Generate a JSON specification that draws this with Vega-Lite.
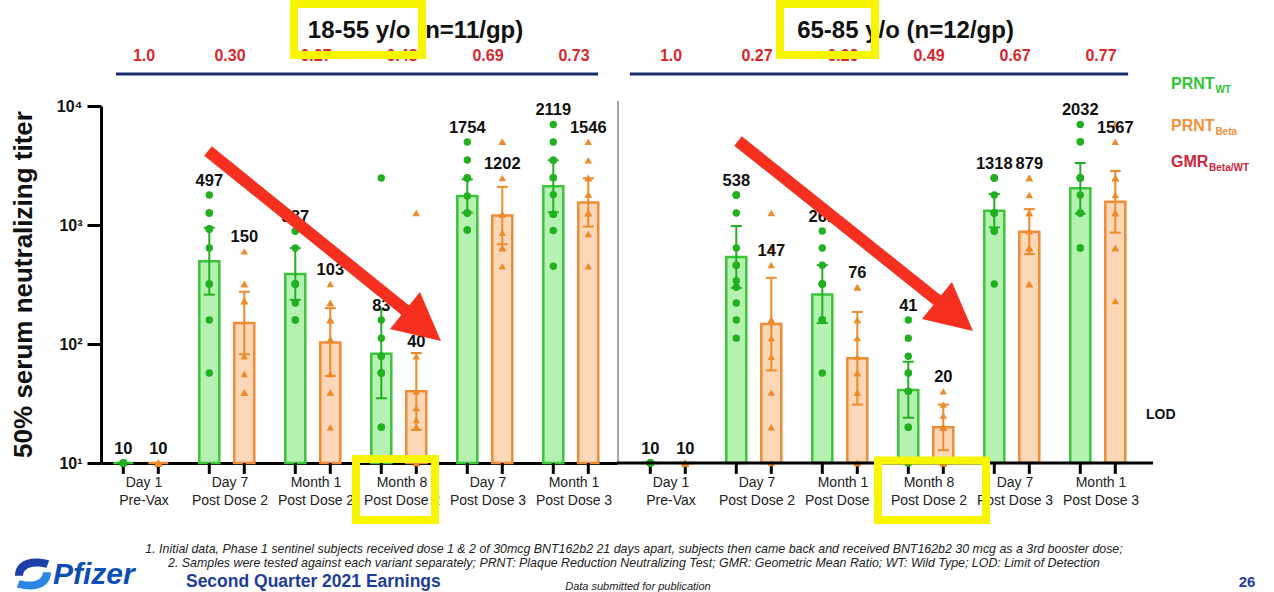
{
"$schema":"https://vega.github.io/schema/vega-lite/v6.json",
"background":"white",
"padding":{"left":9,"top":0,"right":0,"bottom":0},
"bounds":"flush",
"spacing":11,
"config":{"view":{"stroke":null},"font":"Liberation Sans","axis":{"grid":false}},
"datasets":{
"gmr":[
{"g":"18-55","t":"Day 1 Pre-Vax","gmr":"1.0"},
{"g":"18-55","t":"Day 7 Post Dose 2","gmr":"0.30"},
{"g":"18-55","t":"Month 1 Post Dose 2","gmr":"0.27"},
{"g":"18-55","t":"Month 8 Post Dose 2","gmr":"0.48"},
{"g":"18-55","t":"Day 7 Post Dose 3","gmr":"0.69"},
{"g":"18-55","t":"Month 1 Post Dose 3","gmr":"0.73"},
{"g":"65-85","t":"Day 1 Pre-Vax","gmr":"1.0"},
{"g":"65-85","t":"Day 7 Post Dose 2","gmr":"0.27"},
{"g":"65-85","t":"Month 1 Post Dose 2","gmr":"0.29"},
{"g":"65-85","t":"Month 8 Post Dose 2","gmr":"0.49"},
{"g":"65-85","t":"Day 7 Post Dose 3","gmr":"0.67"},
{"g":"65-85","t":"Month 1 Post Dose 3","gmr":"0.77"}
],
"rows":[
{"g":"18-55","t":"Day 1 Pre-Vax","v":"WT","gmt":10,"lo":10,"hi":10},
{"g":"18-55","t":"Day 1 Pre-Vax","v":"Beta","gmt":10,"lo":10,"hi":10},
{"g":"18-55","t":"Day 7 Post Dose 2","v":"WT","gmt":497,"lo":260,"hi":950},
{"g":"18-55","t":"Day 7 Post Dose 2","v":"Beta","gmt":150,"lo":82,"hi":275},
{"g":"18-55","t":"Month 1 Post Dose 2","v":"WT","gmt":387,"lo":235,"hi":640},
{"g":"18-55","t":"Month 1 Post Dose 2","v":"Beta","gmt":103,"lo":54,"hi":200},
{"g":"18-55","t":"Month 8 Post Dose 2","v":"WT","gmt":83,"lo":35,"hi":195},
{"g":"18-55","t":"Month 8 Post Dose 2","v":"Beta","gmt":40,"lo":19,"hi":84},
{"g":"18-55","t":"Day 7 Post Dose 3","v":"WT","gmt":1754,"lo":1270,"hi":2420},
{"g":"18-55","t":"Day 7 Post Dose 3","v":"Beta","gmt":1202,"lo":690,"hi":2090},
{"g":"18-55","t":"Month 1 Post Dose 3","v":"WT","gmt":2119,"lo":1280,"hi":3500},
{"g":"18-55","t":"Month 1 Post Dose 3","v":"Beta","gmt":1546,"lo":970,"hi":2470},
{"g":"65-85","t":"Day 1 Pre-Vax","v":"WT","gmt":10,"lo":10,"hi":10},
{"g":"65-85","t":"Day 1 Pre-Vax","v":"Beta","gmt":10,"lo":10,"hi":10},
{"g":"65-85","t":"Day 7 Post Dose 2","v":"WT","gmt":538,"lo":296,"hi":980},
{"g":"65-85","t":"Day 7 Post Dose 2","v":"Beta","gmt":147,"lo":60,"hi":360},
{"g":"65-85","t":"Month 1 Post Dose 2","v":"WT","gmt":261,"lo":150,"hi":460},
{"g":"65-85","t":"Month 1 Post Dose 2","v":"Beta","gmt":76,"lo":31,"hi":186},
{"g":"65-85","t":"Month 8 Post Dose 2","v":"WT","gmt":41,"lo":24,"hi":71},
{"g":"65-85","t":"Month 8 Post Dose 2","v":"Beta","gmt":20,"lo":12.8,"hi":31},
{"g":"65-85","t":"Day 7 Post Dose 3","v":"WT","gmt":1318,"lo":955,"hi":1820},
{"g":"65-85","t":"Day 7 Post Dose 3","v":"Beta","gmt":879,"lo":570,"hi":1360},
{"g":"65-85","t":"Month 1 Post Dose 3","v":"WT","gmt":2032,"lo":1245,"hi":3320},
{"g":"65-85","t":"Month 1 Post Dose 3","v":"Beta","gmt":1567,"lo":863,"hi":2845},
{"g":"18-55","t":"Day 1 Pre-Vax","v":"WT","titer":10},{"g":"18-55","t":"Day 1 Pre-Vax","v":"WT","titer":10},{"g":"18-55","t":"Day 1 Pre-Vax","v":"WT","titer":10},{"g":"18-55","t":"Day 1 Pre-Vax","v":"WT","titer":10},{"g":"18-55","t":"Day 1 Pre-Vax","v":"WT","titer":10},{"g":"18-55","t":"Day 1 Pre-Vax","v":"WT","titer":10},{"g":"18-55","t":"Day 1 Pre-Vax","v":"WT","titer":10},{"g":"18-55","t":"Day 1 Pre-Vax","v":"WT","titer":10},{"g":"18-55","t":"Day 1 Pre-Vax","v":"WT","titer":10},{"g":"18-55","t":"Day 1 Pre-Vax","v":"WT","titer":10},{"g":"18-55","t":"Day 1 Pre-Vax","v":"WT","titer":10},
{"g":"18-55","t":"Day 1 Pre-Vax","v":"Beta","titer":10},{"g":"18-55","t":"Day 1 Pre-Vax","v":"Beta","titer":10},{"g":"18-55","t":"Day 1 Pre-Vax","v":"Beta","titer":10},{"g":"18-55","t":"Day 1 Pre-Vax","v":"Beta","titer":10},{"g":"18-55","t":"Day 1 Pre-Vax","v":"Beta","titer":10},{"g":"18-55","t":"Day 1 Pre-Vax","v":"Beta","titer":10},{"g":"18-55","t":"Day 1 Pre-Vax","v":"Beta","titer":10},{"g":"18-55","t":"Day 1 Pre-Vax","v":"Beta","titer":10},{"g":"18-55","t":"Day 1 Pre-Vax","v":"Beta","titer":10},{"g":"18-55","t":"Day 1 Pre-Vax","v":"Beta","titer":10},{"g":"18-55","t":"Day 1 Pre-Vax","v":"Beta","titer":10},
{"g":"18-55","t":"Day 7 Post Dose 2","v":"WT","titer":1786},{"g":"18-55","t":"Day 7 Post Dose 2","v":"WT","titer":1262},{"g":"18-55","t":"Day 7 Post Dose 2","v":"WT","titer":1262},{"g":"18-55","t":"Day 7 Post Dose 2","v":"WT","titer":925},{"g":"18-55","t":"Day 7 Post Dose 2","v":"WT","titer":925},{"g":"18-55","t":"Day 7 Post Dose 2","v":"WT","titer":925},{"g":"18-55","t":"Day 7 Post Dose 2","v":"WT","titer":641},{"g":"18-55","t":"Day 7 Post Dose 2","v":"WT","titer":319},{"g":"18-55","t":"Day 7 Post Dose 2","v":"WT","titer":319},{"g":"18-55","t":"Day 7 Post Dose 2","v":"WT","titer":159},{"g":"18-55","t":"Day 7 Post Dose 2","v":"WT","titer":57},
{"g":"18-55","t":"Day 7 Post Dose 2","v":"Beta","titer":600},{"g":"18-55","t":"Day 7 Post Dose 2","v":"Beta","titer":319},{"g":"18-55","t":"Day 7 Post Dose 2","v":"Beta","titer":319},{"g":"18-55","t":"Day 7 Post Dose 2","v":"Beta","titer":230},{"g":"18-55","t":"Day 7 Post Dose 2","v":"Beta","titer":230},{"g":"18-55","t":"Day 7 Post Dose 2","v":"Beta","titer":230},{"g":"18-55","t":"Day 7 Post Dose 2","v":"Beta","titer":79},{"g":"18-55","t":"Day 7 Post Dose 2","v":"Beta","titer":56},{"g":"18-55","t":"Day 7 Post Dose 2","v":"Beta","titer":39},{"g":"18-55","t":"Day 7 Post Dose 2","v":"Beta","titer":39},{"g":"18-55","t":"Day 7 Post Dose 2","v":"Beta","titer":39},
{"g":"18-55","t":"Month 1 Post Dose 2","v":"WT","titer":891},{"g":"18-55","t":"Month 1 Post Dose 2","v":"WT","titer":891},{"g":"18-55","t":"Month 1 Post Dose 2","v":"WT","titer":641},{"g":"18-55","t":"Month 1 Post Dose 2","v":"WT","titer":319},{"g":"18-55","t":"Month 1 Post Dose 2","v":"WT","titer":319},{"g":"18-55","t":"Month 1 Post Dose 2","v":"WT","titer":319},{"g":"18-55","t":"Month 1 Post Dose 2","v":"WT","titer":319},{"g":"18-55","t":"Month 1 Post Dose 2","v":"WT","titer":319},{"g":"18-55","t":"Month 1 Post Dose 2","v":"WT","titer":221},{"g":"18-55","t":"Month 1 Post Dose 2","v":"WT","titer":159},{"g":"18-55","t":"Month 1 Post Dose 2","v":"WT","titer":159},
{"g":"18-55","t":"Month 1 Post Dose 2","v":"Beta","titer":319},{"g":"18-55","t":"Month 1 Post Dose 2","v":"Beta","titer":221},{"g":"18-55","t":"Month 1 Post Dose 2","v":"Beta","titer":221},{"g":"18-55","t":"Month 1 Post Dose 2","v":"Beta","titer":159},{"g":"18-55","t":"Month 1 Post Dose 2","v":"Beta","titer":159},{"g":"18-55","t":"Month 1 Post Dose 2","v":"Beta","titer":159},{"g":"18-55","t":"Month 1 Post Dose 2","v":"Beta","titer":110},{"g":"18-55","t":"Month 1 Post Dose 2","v":"Beta","titer":56},{"g":"18-55","t":"Month 1 Post Dose 2","v":"Beta","titer":39},{"g":"18-55","t":"Month 1 Post Dose 2","v":"Beta","titer":39},{"g":"18-55","t":"Month 1 Post Dose 2","v":"Beta","titer":20},
{"g":"18-55","t":"Month 8 Post Dose 2","v":"WT","titer":2483},{"g":"18-55","t":"Month 8 Post Dose 2","v":"WT","titer":159},{"g":"18-55","t":"Month 8 Post Dose 2","v":"WT","titer":112},{"g":"18-55","t":"Month 8 Post Dose 2","v":"WT","titer":79},{"g":"18-55","t":"Month 8 Post Dose 2","v":"WT","titer":79},{"g":"18-55","t":"Month 8 Post Dose 2","v":"WT","titer":57},{"g":"18-55","t":"Month 8 Post Dose 2","v":"WT","titer":57},{"g":"18-55","t":"Month 8 Post Dose 2","v":"WT","titer":57},{"g":"18-55","t":"Month 8 Post Dose 2","v":"WT","titer":57},{"g":"18-55","t":"Month 8 Post Dose 2","v":"WT","titer":20},{"g":"18-55","t":"Month 8 Post Dose 2","v":"WT","titer":20},
{"g":"18-55","t":"Month 8 Post Dose 2","v":"Beta","titer":1262},{"g":"18-55","t":"Month 8 Post Dose 2","v":"Beta","titer":79},{"g":"18-55","t":"Month 8 Post Dose 2","v":"Beta","titer":40},{"g":"18-55","t":"Month 8 Post Dose 2","v":"Beta","titer":29},{"g":"18-55","t":"Month 8 Post Dose 2","v":"Beta","titer":23},{"g":"18-55","t":"Month 8 Post Dose 2","v":"Beta","titer":20},{"g":"18-55","t":"Month 8 Post Dose 2","v":"Beta","titer":20},{"g":"18-55","t":"Month 8 Post Dose 2","v":"Beta","titer":20},{"g":"18-55","t":"Month 8 Post Dose 2","v":"Beta","titer":20},{"g":"18-55","t":"Month 8 Post Dose 2","v":"Beta","titer":10},{"g":"18-55","t":"Month 8 Post Dose 2","v":"Beta","titer":10},
{"g":"18-55","t":"Day 7 Post Dose 3","v":"WT","titer":4977},{"g":"18-55","t":"Day 7 Post Dose 3","v":"WT","titer":3515},{"g":"18-55","t":"Day 7 Post Dose 3","v":"WT","titer":2483},{"g":"18-55","t":"Day 7 Post Dose 3","v":"WT","titer":2483},{"g":"18-55","t":"Day 7 Post Dose 3","v":"WT","titer":2483},{"g":"18-55","t":"Day 7 Post Dose 3","v":"WT","titer":1754},{"g":"18-55","t":"Day 7 Post Dose 3","v":"WT","titer":1262},{"g":"18-55","t":"Day 7 Post Dose 3","v":"WT","titer":1262},{"g":"18-55","t":"Day 7 Post Dose 3","v":"WT","titer":1262},{"g":"18-55","t":"Day 7 Post Dose 3","v":"WT","titer":908},{"g":"18-55","t":"Day 7 Post Dose 3","v":"WT","titer":908},
{"g":"18-55","t":"Day 7 Post Dose 3","v":"Beta","titer":5000},{"g":"18-55","t":"Day 7 Post Dose 3","v":"Beta","titer":5000},{"g":"18-55","t":"Day 7 Post Dose 3","v":"Beta","titer":2483},{"g":"18-55","t":"Day 7 Post Dose 3","v":"Beta","titer":1230},{"g":"18-55","t":"Day 7 Post Dose 3","v":"Beta","titer":1230},{"g":"18-55","t":"Day 7 Post Dose 3","v":"Beta","titer":1230},{"g":"18-55","t":"Day 7 Post Dose 3","v":"Beta","titer":860},{"g":"18-55","t":"Day 7 Post Dose 3","v":"Beta","titer":640},{"g":"18-55","t":"Day 7 Post Dose 3","v":"Beta","titer":640},{"g":"18-55","t":"Day 7 Post Dose 3","v":"Beta","titer":640},{"g":"18-55","t":"Day 7 Post Dose 3","v":"Beta","titer":450},
{"g":"18-55","t":"Month 1 Post Dose 3","v":"WT","titer":7000},{"g":"18-55","t":"Month 1 Post Dose 3","v":"WT","titer":4977},{"g":"18-55","t":"Month 1 Post Dose 3","v":"WT","titer":3500},{"g":"18-55","t":"Month 1 Post Dose 3","v":"WT","titer":3500},{"g":"18-55","t":"Month 1 Post Dose 3","v":"WT","titer":2500},{"g":"18-55","t":"Month 1 Post Dose 3","v":"WT","titer":2500},{"g":"18-55","t":"Month 1 Post Dose 3","v":"WT","titer":1800},{"g":"18-55","t":"Month 1 Post Dose 3","v":"WT","titer":1230},{"g":"18-55","t":"Month 1 Post Dose 3","v":"WT","titer":1230},{"g":"18-55","t":"Month 1 Post Dose 3","v":"WT","titer":900},{"g":"18-55","t":"Month 1 Post Dose 3","v":"WT","titer":450},
{"g":"18-55","t":"Month 1 Post Dose 3","v":"Beta","titer":5000},{"g":"18-55","t":"Month 1 Post Dose 3","v":"Beta","titer":3500},{"g":"18-55","t":"Month 1 Post Dose 3","v":"Beta","titer":2483},{"g":"18-55","t":"Month 1 Post Dose 3","v":"Beta","titer":2483},{"g":"18-55","t":"Month 1 Post Dose 3","v":"Beta","titer":1800},{"g":"18-55","t":"Month 1 Post Dose 3","v":"Beta","titer":1800},{"g":"18-55","t":"Month 1 Post Dose 3","v":"Beta","titer":1260},{"g":"18-55","t":"Month 1 Post Dose 3","v":"Beta","titer":1260},{"g":"18-55","t":"Month 1 Post Dose 3","v":"Beta","titer":1260},{"g":"18-55","t":"Month 1 Post Dose 3","v":"Beta","titer":840},{"g":"18-55","t":"Month 1 Post Dose 3","v":"Beta","titer":450},
{"g":"65-85","t":"Day 1 Pre-Vax","v":"WT","titer":10},{"g":"65-85","t":"Day 1 Pre-Vax","v":"WT","titer":10},{"g":"65-85","t":"Day 1 Pre-Vax","v":"WT","titer":10},{"g":"65-85","t":"Day 1 Pre-Vax","v":"WT","titer":10},{"g":"65-85","t":"Day 1 Pre-Vax","v":"WT","titer":10},{"g":"65-85","t":"Day 1 Pre-Vax","v":"WT","titer":10},{"g":"65-85","t":"Day 1 Pre-Vax","v":"WT","titer":10},{"g":"65-85","t":"Day 1 Pre-Vax","v":"WT","titer":10},{"g":"65-85","t":"Day 1 Pre-Vax","v":"WT","titer":10},{"g":"65-85","t":"Day 1 Pre-Vax","v":"WT","titer":10},{"g":"65-85","t":"Day 1 Pre-Vax","v":"WT","titer":10},{"g":"65-85","t":"Day 1 Pre-Vax","v":"WT","titer":10},
{"g":"65-85","t":"Day 1 Pre-Vax","v":"Beta","titer":10},{"g":"65-85","t":"Day 1 Pre-Vax","v":"Beta","titer":10},{"g":"65-85","t":"Day 1 Pre-Vax","v":"Beta","titer":10},{"g":"65-85","t":"Day 1 Pre-Vax","v":"Beta","titer":10},{"g":"65-85","t":"Day 1 Pre-Vax","v":"Beta","titer":10},{"g":"65-85","t":"Day 1 Pre-Vax","v":"Beta","titer":10},{"g":"65-85","t":"Day 1 Pre-Vax","v":"Beta","titer":10},{"g":"65-85","t":"Day 1 Pre-Vax","v":"Beta","titer":10},{"g":"65-85","t":"Day 1 Pre-Vax","v":"Beta","titer":10},{"g":"65-85","t":"Day 1 Pre-Vax","v":"Beta","titer":10},{"g":"65-85","t":"Day 1 Pre-Vax","v":"Beta","titer":10},{"g":"65-85","t":"Day 1 Pre-Vax","v":"Beta","titer":10},
{"g":"65-85","t":"Day 7 Post Dose 2","v":"WT","titer":1786},{"g":"65-85","t":"Day 7 Post Dose 2","v":"WT","titer":1786},{"g":"65-85","t":"Day 7 Post Dose 2","v":"WT","titer":1786},{"g":"65-85","t":"Day 7 Post Dose 2","v":"WT","titer":1262},{"g":"65-85","t":"Day 7 Post Dose 2","v":"WT","titer":641},{"g":"65-85","t":"Day 7 Post Dose 2","v":"WT","titer":460},{"g":"65-85","t":"Day 7 Post Dose 2","v":"WT","titer":460},{"g":"65-85","t":"Day 7 Post Dose 2","v":"WT","titer":340},{"g":"65-85","t":"Day 7 Post Dose 2","v":"WT","titer":300},{"g":"65-85","t":"Day 7 Post Dose 2","v":"WT","titer":221},{"g":"65-85","t":"Day 7 Post Dose 2","v":"WT","titer":159},{"g":"65-85","t":"Day 7 Post Dose 2","v":"WT","titer":112},
{"g":"65-85","t":"Day 7 Post Dose 2","v":"Beta","titer":1262},{"g":"65-85","t":"Day 7 Post Dose 2","v":"Beta","titer":641},{"g":"65-85","t":"Day 7 Post Dose 2","v":"Beta","titer":460},{"g":"65-85","t":"Day 7 Post Dose 2","v":"Beta","titer":159},{"g":"65-85","t":"Day 7 Post Dose 2","v":"Beta","titer":159},{"g":"65-85","t":"Day 7 Post Dose 2","v":"Beta","titer":159},{"g":"65-85","t":"Day 7 Post Dose 2","v":"Beta","titer":159},{"g":"65-85","t":"Day 7 Post Dose 2","v":"Beta","titer":112},{"g":"65-85","t":"Day 7 Post Dose 2","v":"Beta","titer":78},{"g":"65-85","t":"Day 7 Post Dose 2","v":"Beta","titer":39},{"g":"65-85","t":"Day 7 Post Dose 2","v":"Beta","titer":20},{"g":"65-85","t":"Day 7 Post Dose 2","v":"Beta","titer":10},
{"g":"65-85","t":"Month 1 Post Dose 2","v":"WT","titer":891},{"g":"65-85","t":"Month 1 Post Dose 2","v":"WT","titer":640},{"g":"65-85","t":"Month 1 Post Dose 2","v":"WT","titer":460},{"g":"65-85","t":"Month 1 Post Dose 2","v":"WT","titer":319},{"g":"65-85","t":"Month 1 Post Dose 2","v":"WT","titer":319},{"g":"65-85","t":"Month 1 Post Dose 2","v":"WT","titer":319},{"g":"65-85","t":"Month 1 Post Dose 2","v":"WT","titer":319},{"g":"65-85","t":"Month 1 Post Dose 2","v":"WT","titer":159},{"g":"65-85","t":"Month 1 Post Dose 2","v":"WT","titer":159},{"g":"65-85","t":"Month 1 Post Dose 2","v":"WT","titer":159},{"g":"65-85","t":"Month 1 Post Dose 2","v":"WT","titer":159},{"g":"65-85","t":"Month 1 Post Dose 2","v":"WT","titer":57},
{"g":"65-85","t":"Month 1 Post Dose 2","v":"Beta","titer":300},{"g":"65-85","t":"Month 1 Post Dose 2","v":"Beta","titer":300},{"g":"65-85","t":"Month 1 Post Dose 2","v":"Beta","titer":159},{"g":"65-85","t":"Month 1 Post Dose 2","v":"Beta","titer":159},{"g":"65-85","t":"Month 1 Post Dose 2","v":"Beta","titer":112},{"g":"65-85","t":"Month 1 Post Dose 2","v":"Beta","titer":78},{"g":"65-85","t":"Month 1 Post Dose 2","v":"Beta","titer":57},{"g":"65-85","t":"Month 1 Post Dose 2","v":"Beta","titer":57},{"g":"65-85","t":"Month 1 Post Dose 2","v":"Beta","titer":39},{"g":"65-85","t":"Month 1 Post Dose 2","v":"Beta","titer":39},{"g":"65-85","t":"Month 1 Post Dose 2","v":"Beta","titer":10},{"g":"65-85","t":"Month 1 Post Dose 2","v":"Beta","titer":10},
{"g":"65-85","t":"Month 8 Post Dose 2","v":"WT","titer":159},{"g":"65-85","t":"Month 8 Post Dose 2","v":"WT","titer":112},{"g":"65-85","t":"Month 8 Post Dose 2","v":"WT","titer":79},{"g":"65-85","t":"Month 8 Post Dose 2","v":"WT","titer":57},{"g":"65-85","t":"Month 8 Post Dose 2","v":"WT","titer":57},{"g":"65-85","t":"Month 8 Post Dose 2","v":"WT","titer":40},{"g":"65-85","t":"Month 8 Post Dose 2","v":"WT","titer":40},{"g":"65-85","t":"Month 8 Post Dose 2","v":"WT","titer":40},{"g":"65-85","t":"Month 8 Post Dose 2","v":"WT","titer":20},{"g":"65-85","t":"Month 8 Post Dose 2","v":"WT","titer":20},{"g":"65-85","t":"Month 8 Post Dose 2","v":"WT","titer":10},{"g":"65-85","t":"Month 8 Post Dose 2","v":"WT","titer":10},
{"g":"65-85","t":"Month 8 Post Dose 2","v":"Beta","titer":40},{"g":"65-85","t":"Month 8 Post Dose 2","v":"Beta","titer":31},{"g":"65-85","t":"Month 8 Post Dose 2","v":"Beta","titer":25},{"g":"65-85","t":"Month 8 Post Dose 2","v":"Beta","titer":20},{"g":"65-85","t":"Month 8 Post Dose 2","v":"Beta","titer":20},{"g":"65-85","t":"Month 8 Post Dose 2","v":"Beta","titer":20},{"g":"65-85","t":"Month 8 Post Dose 2","v":"Beta","titer":20},{"g":"65-85","t":"Month 8 Post Dose 2","v":"Beta","titer":20},{"g":"65-85","t":"Month 8 Post Dose 2","v":"Beta","titer":10},{"g":"65-85","t":"Month 8 Post Dose 2","v":"Beta","titer":10},{"g":"65-85","t":"Month 8 Post Dose 2","v":"Beta","titer":10},{"g":"65-85","t":"Month 8 Post Dose 2","v":"Beta","titer":10},
{"g":"65-85","t":"Day 7 Post Dose 3","v":"WT","titer":2483},{"g":"65-85","t":"Day 7 Post Dose 3","v":"WT","titer":2483},{"g":"65-85","t":"Day 7 Post Dose 3","v":"WT","titer":2483},{"g":"65-85","t":"Day 7 Post Dose 3","v":"WT","titer":1786},{"g":"65-85","t":"Day 7 Post Dose 3","v":"WT","titer":1262},{"g":"65-85","t":"Day 7 Post Dose 3","v":"WT","titer":1262},{"g":"65-85","t":"Day 7 Post Dose 3","v":"WT","titer":1262},{"g":"65-85","t":"Day 7 Post Dose 3","v":"WT","titer":1262},{"g":"65-85","t":"Day 7 Post Dose 3","v":"WT","titer":891},{"g":"65-85","t":"Day 7 Post Dose 3","v":"WT","titer":891},{"g":"65-85","t":"Day 7 Post Dose 3","v":"WT","titer":891},{"g":"65-85","t":"Day 7 Post Dose 3","v":"WT","titer":319},
{"g":"65-85","t":"Day 7 Post Dose 3","v":"Beta","titer":2483},{"g":"65-85","t":"Day 7 Post Dose 3","v":"Beta","titer":2483},{"g":"65-85","t":"Day 7 Post Dose 3","v":"Beta","titer":1786},{"g":"65-85","t":"Day 7 Post Dose 3","v":"Beta","titer":1262},{"g":"65-85","t":"Day 7 Post Dose 3","v":"Beta","titer":1262},{"g":"65-85","t":"Day 7 Post Dose 3","v":"Beta","titer":891},{"g":"65-85","t":"Day 7 Post Dose 3","v":"Beta","titer":641},{"g":"65-85","t":"Day 7 Post Dose 3","v":"Beta","titer":641},{"g":"65-85","t":"Day 7 Post Dose 3","v":"Beta","titer":641},{"g":"65-85","t":"Day 7 Post Dose 3","v":"Beta","titer":641},{"g":"65-85","t":"Day 7 Post Dose 3","v":"Beta","titer":319},{"g":"65-85","t":"Day 7 Post Dose 3","v":"Beta","titer":319},
{"g":"65-85","t":"Month 1 Post Dose 3","v":"WT","titer":7000},{"g":"65-85","t":"Month 1 Post Dose 3","v":"WT","titer":5000},{"g":"65-85","t":"Month 1 Post Dose 3","v":"WT","titer":5000},{"g":"65-85","t":"Month 1 Post Dose 3","v":"WT","titer":2483},{"g":"65-85","t":"Month 1 Post Dose 3","v":"WT","titer":2483},{"g":"65-85","t":"Month 1 Post Dose 3","v":"WT","titer":2483},{"g":"65-85","t":"Month 1 Post Dose 3","v":"WT","titer":2483},{"g":"65-85","t":"Month 1 Post Dose 3","v":"WT","titer":1786},{"g":"65-85","t":"Month 1 Post Dose 3","v":"WT","titer":1262},{"g":"65-85","t":"Month 1 Post Dose 3","v":"WT","titer":1262},{"g":"65-85","t":"Month 1 Post Dose 3","v":"WT","titer":641},{"g":"65-85","t":"Month 1 Post Dose 3","v":"WT","titer":641},
{"g":"65-85","t":"Month 1 Post Dose 3","v":"Beta","titer":7000},{"g":"65-85","t":"Month 1 Post Dose 3","v":"Beta","titer":5000},{"g":"65-85","t":"Month 1 Post Dose 3","v":"Beta","titer":2483},{"g":"65-85","t":"Month 1 Post Dose 3","v":"Beta","titer":2483},{"g":"65-85","t":"Month 1 Post Dose 3","v":"Beta","titer":2483},{"g":"65-85","t":"Month 1 Post Dose 3","v":"Beta","titer":1786},{"g":"65-85","t":"Month 1 Post Dose 3","v":"Beta","titer":1262},{"g":"65-85","t":"Month 1 Post Dose 3","v":"Beta","titer":1262},{"g":"65-85","t":"Month 1 Post Dose 3","v":"Beta","titer":1262},{"g":"65-85","t":"Month 1 Post Dose 3","v":"Beta","titer":641},{"g":"65-85","t":"Month 1 Post Dose 3","v":"Beta","titer":641},{"g":"65-85","t":"Month 1 Post Dose 3","v":"Beta","titer":230}
]
},
"hconcat":[
{
"width":516,"height":357,
"resolve":{"scale":{"x":"independent"}},
"layer":[
{
"data":{"name":"rows"},
"transform":[{"filter":"datum.g == '18-55'"}],
"layer":[
{"transform":[{"filter":"isValid(datum.gmt)"}],
 "mark":{"type":"bar","width":20,"strokeWidth":2.5},
 "encoding":{
  "x":{"field":"t","type":"nominal","title":null,"scale":{"domain":["Day 1 Pre-Vax","Day 7 Post Dose 2","Month 1 Post Dose 2","Month 8 Post Dose 2","Day 7 Post Dose 3","Month 1 Post Dose 3"],"paddingInner":0,"paddingOuter":0},
   "axis":{"title":null,"ticks":false,"domain":true,"domainColor":"#000","domainWidth":3,"labelAngle":0,"labelFontSize":14,"labelColor":"#222","labelPadding":12,"labelLineHeight":18,"labelExpr":"split(replace(replace(datum.label, ' Post', '|Post'), ' Pre', '|Pre'), '|')"}},
  "xOffset":{"field":"v","type":"nominal","scale":{"domain":["WT","Beta"],"paddingInner":0,"paddingOuter":0.2286,"align":0.3}},
  "y":{"field":"gmt","type":"quantitative","title":"50% serum neutralizing titer","scale":{"type":"log","domain":[10,10000],"nice":false},
   "axis":{"title":"50% serum neutralizing titer","titleFontSize":26,"titleFontWeight":"bold","titleColor":"#111","titleX":-91,"titleY":178,"titleAngle":-90,"titleBaseline":"top","titleAlign":"center","values":[10,100,1000,10000],"labelExpr":"datum.value == 10 ? '10¹' : datum.value == 100 ? '10²' : datum.value == 1000 ? '10³' : '10⁴'","labelFontSize":16,"labelFontWeight":"bold","labelColor":"#111","labelPadding":5,"tickSize":14,"tickWidth":3,"tickColor":"#000","domainColor":"#000","domainWidth":3}},
  "y2":{"datum":10},
  "fill":{"field":"v","type":"nominal","scale":{"domain":["WT","Beta"],"range":["#b5f1b0","#fcd8b9"]},"legend":null},
  "stroke":{"field":"v","type":"nominal","scale":{"domain":["WT","Beta"],"range":["#3cc43a","#f08c36"]},"legend":null}
 }},
{"transform":[{"filter":"isValid(datum.gmt)"}],
 "mark":{"type":"rule","strokeWidth":2},
 "encoding":{
  "x":{"field":"t","type":"nominal","title":null,"scale":{"domain":["Day 1 Pre-Vax","Day 7 Post Dose 2","Month 1 Post Dose 2","Month 8 Post Dose 2","Day 7 Post Dose 3","Month 1 Post Dose 3"],"paddingInner":0,"paddingOuter":0}},
  "xOffset":{"field":"v","type":"nominal","scale":{"domain":["WT","Beta"],"paddingInner":0,"paddingOuter":0.2286,"align":0.3}},
  "y":{"field":"lo","type":"quantitative","title":"50% serum neutralizing titer","scale":{"type":"log","domain":[10,10000],"nice":false}},
  "y2":{"field":"hi"},
  "color":{"field":"v","type":"nominal","scale":{"domain":["WT","Beta"],"range":["#22b022","#ef8a2a"]},"legend":null}
 }},
{"transform":[{"filter":"isValid(datum.gmt)"}],
 "mark":{"type":"tick","thickness":2,"size":11,"opacity":1},
 "encoding":{
  "x":{"field":"t","type":"nominal","title":null,"scale":{"domain":["Day 1 Pre-Vax","Day 7 Post Dose 2","Month 1 Post Dose 2","Month 8 Post Dose 2","Day 7 Post Dose 3","Month 1 Post Dose 3"],"paddingInner":0,"paddingOuter":0}},
  "xOffset":{"field":"v","type":"nominal","scale":{"domain":["WT","Beta"],"paddingInner":0,"paddingOuter":0.2286,"align":0.3}},
  "y":{"field":"lo","type":"quantitative","title":"50% serum neutralizing titer","scale":{"type":"log","domain":[10,10000],"nice":false}},
  "color":{"field":"v","type":"nominal","scale":{"domain":["WT","Beta"],"range":["#22b022","#ef8a2a"]},"legend":null}
 }},
{"transform":[{"filter":"isValid(datum.gmt)"}],
 "mark":{"type":"tick","thickness":2,"size":11,"opacity":1},
 "encoding":{
  "x":{"field":"t","type":"nominal","title":null,"scale":{"domain":["Day 1 Pre-Vax","Day 7 Post Dose 2","Month 1 Post Dose 2","Month 8 Post Dose 2","Day 7 Post Dose 3","Month 1 Post Dose 3"],"paddingInner":0,"paddingOuter":0}},
  "xOffset":{"field":"v","type":"nominal","scale":{"domain":["WT","Beta"],"paddingInner":0,"paddingOuter":0.2286,"align":0.3}},
  "y":{"field":"hi","type":"quantitative","title":"50% serum neutralizing titer","scale":{"type":"log","domain":[10,10000],"nice":false}},
  "color":{"field":"v","type":"nominal","scale":{"domain":["WT","Beta"],"range":["#22b022","#ef8a2a"]},"legend":null}
 }},
{"transform":[{"filter":"isValid(datum.gmt)"}],
 "mark":{"type":"rule","strokeWidth":3,"color":"#000"},
 "encoding":{
  "x":{"field":"t","type":"nominal","title":null,"scale":{"domain":["Day 1 Pre-Vax","Day 7 Post Dose 2","Month 1 Post Dose 2","Month 8 Post Dose 2","Day 7 Post Dose 3","Month 1 Post Dose 3"],"paddingInner":0,"paddingOuter":0}},
  "xOffset":{"field":"v","type":"nominal","scale":{"domain":["WT","Beta"],"paddingInner":0,"paddingOuter":0.2286,"align":0.3}},
  "y":{"datum":10,"type":"quantitative","title":"50% serum neutralizing titer","scale":{"type":"log","domain":[10,10000],"nice":false}},
  "y2":{"datum":8.1}
 }},
{"transform":[{"filter":"isValid(datum.titer)"}],
 "mark":{"type":"point","filled":true,"opacity":1,"size":55},
 "encoding":{
  "x":{"field":"t","type":"nominal","title":null,"scale":{"domain":["Day 1 Pre-Vax","Day 7 Post Dose 2","Month 1 Post Dose 2","Month 8 Post Dose 2","Day 7 Post Dose 3","Month 1 Post Dose 3"],"paddingInner":0,"paddingOuter":0}},
  "xOffset":{"field":"v","type":"nominal","scale":{"domain":["WT","Beta"],"paddingInner":0,"paddingOuter":0.2286,"align":0.3}},
  "y":{"field":"titer","type":"quantitative","title":"50% serum neutralizing titer","scale":{"type":"log","domain":[10,10000],"nice":false}},
  "color":{"field":"v","type":"nominal","scale":{"domain":["WT","Beta"],"range":["#22b022","#ef8a2a"]},"legend":null},
  "shape":{"field":"v","type":"nominal","scale":{"domain":["WT","Beta"],"range":["circle","triangle-up"]},"legend":null}
 }},
{"transform":[{"joinaggregate":[{"op":"max","field":"gmt","as":"ggmt"}],"groupby":["t","v"]},{"filter":"!isValid(datum.titer) || datum.titer <= 4.1 * datum.ggmt"},{"joinaggregate":[{"op":"max","field":"titer","as":"top"}],"groupby":["t","v"]},{"filter":"isValid(datum.gmt)"}],
 "mark":{"type":"text","font":"Liberation Sans Narrow, Arial Narrow, Liberation Sans","fontSize":16.5,"fontWeight":"bold","dy":-9,"baseline":"alphabetic","color":"#111"},
 "encoding":{
  "x":{"field":"t","type":"nominal","title":null,"scale":{"domain":["Day 1 Pre-Vax","Day 7 Post Dose 2","Month 1 Post Dose 2","Month 8 Post Dose 2","Day 7 Post Dose 3","Month 1 Post Dose 3"],"paddingInner":0,"paddingOuter":0}},
  "xOffset":{"field":"v","type":"nominal","scale":{"domain":["WT","Beta"],"paddingInner":0,"paddingOuter":0.2286,"align":0.3}},
  "y":{"field":"top","type":"quantitative","title":"50% serum neutralizing titer","scale":{"type":"log","domain":[10,10000],"nice":false}},
  "text":{"field":"gmt","type":"nominal"}
 }},
{"data":{"name":"gmr"},
 "transform":[{"filter":"datum.g == '18-55'"}],
 "mark":{"type":"text","font":"Liberation Sans Narrow, Arial Narrow, Liberation Sans","fontSize":16,"fontWeight":"bold","baseline":"middle","color":"#d8262c"},
 "encoding":{
  "x":{"field":"t","type":"nominal","title":null,"scale":{"domain":["Day 1 Pre-Vax","Day 7 Post Dose 2","Month 1 Post Dose 2","Month 8 Post Dose 2","Day 7 Post Dose 3","Month 1 Post Dose 3"],"paddingInner":0,"paddingOuter":0}},
  "y":{"datum":26300,"type":"quantitative","title":"50% serum neutralizing titer","scale":{"type":"log","domain":[10,10000],"nice":false}},
  "text":{"field":"gmr","type":"nominal"}
 }}
]
},
{
"data":{"values":[{}]},
"layer":[
{"mark":{"type":"text","text":"18-55 y/o (n=11/gp)","fontSize":24,"fontWeight":"bold","align":"center","baseline":"alphabetic","color":"#111"},
 "encoding":{"x":{"datum":3.657,"type":"quantitative","scale":{"domain":[0,6],"nice":false,"zero":false},"axis":null},"y":{"datum":37270,"type":"quantitative","title":"50% serum neutralizing titer","scale":{"type":"log","domain":[10,10000],"nice":false}}}},
{"mark":{"type":"rule","color":"#1b2a6b","strokeWidth":3},
 "encoding":{"x":{"datum":0.174,"type":"quantitative","scale":{"domain":[0,6],"nice":false,"zero":false},"axis":null},"x2":{"datum":5.78},"y":{"datum":18570,"type":"quantitative","title":"50% serum neutralizing titer","scale":{"type":"log","domain":[10,10000],"nice":false}}}},
{"mark":{"type":"rule","color":"#f5301e","strokeWidth":12,"strokeCap":"butt"},
 "encoding":{"x":{"datum":1.244,"type":"quantitative","scale":{"domain":[0,6],"nice":false,"zero":false},"axis":null},"x2":{"datum":3.593},"y":{"datum":4190,"type":"quantitative","title":"50% serum neutralizing titer","scale":{"type":"log","domain":[10,10000],"nice":false}},"y2":{"datum":178.6}}},
{"mark":{"type":"point","shape":"M0.1,-0.957L-0.9,0.277L0.8,0.677Z","size":3600,"filled":true,"opacity":1,"color":"#f5301e","strokeWidth":0},
 "encoding":{"x":{"datum":3.674,"type":"quantitative","scale":{"domain":[0,6],"nice":false,"zero":false},"axis":null},"y":{"datum":157,"type":"quantitative","title":"50% serum neutralizing titer","scale":{"type":"log","domain":[10,10000],"nice":false}}}},
{"mark":{"type":"rect","fill":"transparent","stroke":"#f7f500","strokeWidth":8},
 "encoding":{"x":{"datum":2.244,"type":"quantitative","scale":{"domain":[0,6],"nice":false,"zero":false},"axis":null},"x2":{"datum":3.733},"y":{"datum":71950,"type":"quantitative","title":"50% serum neutralizing titer","scale":{"type":"log","domain":[10,10000],"nice":false}},"y2":{"datum":26840}}},
{"mark":{"type":"rect","fill":"transparent","stroke":"#f7f500","strokeWidth":8},
 "encoding":{"x":{"datum":2.965,"type":"quantitative","scale":{"domain":[0,6],"nice":false,"zero":false},"axis":null},"x2":{"datum":3.884},"y":{"datum":10.8,"type":"quantitative","title":"50% serum neutralizing titer","scale":{"type":"log","domain":[10,10000],"nice":false}},"y2":{"datum":3.32}}},
{"mark":{"type":"text","text":"Second Quarter 2021 Earnings","fontSize":17.5,"fontWeight":"bold","align":"left","baseline":"alphabetic","color":"#1d3d9a"},
 "encoding":{"x":{"datum":0.988,"type":"quantitative","scale":{"domain":[0,6],"nice":false,"zero":false},"axis":null},"y":{"datum":0.908,"type":"quantitative","title":"50% serum neutralizing titer","scale":{"type":"log","domain":[10,10000],"nice":false}}}},
{"mark":{"type":"text","text":"Pfizer","fontSize":30,"fontWeight":"bold","fontStyle":"italic","align":"left","baseline":"alphabetic","color":"#0b4fb4"},
 "encoding":{"x":{"datum":-0.558,"type":"quantitative","scale":{"domain":[0,6],"nice":false,"zero":false},"axis":null},"y":{"datum":0.962,"type":"quantitative","title":"50% serum neutralizing titer","scale":{"type":"log","domain":[10,10000],"nice":false}}}},
{"mark":{"type":"point","shape":"M-1,0.1C-1,-0.7 -0.2,-1.05 0.9,-0.75L0.75,-0.35C-0.1,-0.55 -0.55,-0.3 -0.55,0.1Z","size":1296,"filled":true,"opacity":1,"color":"#1c3fa8","strokeWidth":0},
 "encoding":{"x":{"datum":-0.791,"type":"quantitative","scale":{"domain":[0,6],"nice":false,"zero":false},"axis":null},"y":{"datum":1.167,"type":"quantitative","title":"50% serum neutralizing titer","scale":{"type":"log","domain":[10,10000],"nice":false}}}},
{"mark":{"type":"point","shape":"M1,-0.1C1,0.7 0.2,1.05 -0.9,0.75L-0.75,0.35C0.1,0.55 0.55,0.3 0.55,-0.1Z","size":1296,"filled":true,"opacity":1,"color":"#2a86e0","strokeWidth":0},
 "encoding":{"x":{"datum":-0.791,"type":"quantitative","scale":{"domain":[0,6],"nice":false,"zero":false},"axis":null},"y":{"datum":1.167,"type":"quantitative","title":"50% serum neutralizing titer","scale":{"type":"log","domain":[10,10000],"nice":false}}}}
]
}
]
},
{
"width":516,"height":357,
"resolve":{"scale":{"x":"independent"}},
"layer":[
{
"data":{"name":"rows"},
"transform":[{"filter":"datum.g == '65-85'"}],
"layer":[
{"transform":[{"filter":"isValid(datum.gmt)"}],
 "mark":{"type":"bar","width":20,"strokeWidth":2.5},
 "encoding":{
  "x":{"field":"t","type":"nominal","title":null,"scale":{"domain":["Day 1 Pre-Vax","Day 7 Post Dose 2","Month 1 Post Dose 2","Month 8 Post Dose 2","Day 7 Post Dose 3","Month 1 Post Dose 3"],"paddingInner":0,"paddingOuter":0},
   "axis":{"title":null,"ticks":false,"domain":false,"labelAngle":0,"labelFontSize":14,"labelColor":"#222","labelPadding":12,"labelLineHeight":18,"labelExpr":"split(replace(replace(datum.label, ' Post', '|Post'), ' Pre', '|Pre'), '|')"}},
  "xOffset":{"field":"v","type":"nominal","scale":{"domain":["WT","Beta"],"paddingInner":0,"paddingOuter":0.2286,"align":0.3}},
  "y":{"field":"gmt","type":"quantitative","scale":{"type":"log","domain":[10,10000],"nice":false},"axis":null},
  "y2":{"datum":10},
  "fill":{"field":"v","type":"nominal","scale":{"domain":["WT","Beta"],"range":["#b5f1b0","#fcd8b9"]},"legend":null},
  "stroke":{"field":"v","type":"nominal","scale":{"domain":["WT","Beta"],"range":["#3cc43a","#f08c36"]},"legend":null}
 }},
{"transform":[{"filter":"isValid(datum.gmt)"}],
 "mark":{"type":"rule","strokeWidth":2},
 "encoding":{
  "x":{"field":"t","type":"nominal","title":null,"scale":{"domain":["Day 1 Pre-Vax","Day 7 Post Dose 2","Month 1 Post Dose 2","Month 8 Post Dose 2","Day 7 Post Dose 3","Month 1 Post Dose 3"],"paddingInner":0,"paddingOuter":0}},
  "xOffset":{"field":"v","type":"nominal","scale":{"domain":["WT","Beta"],"paddingInner":0,"paddingOuter":0.2286,"align":0.3}},
  "y":{"field":"lo","type":"quantitative","scale":{"type":"log","domain":[10,10000],"nice":false},"axis":null},
  "y2":{"field":"hi"},
  "color":{"field":"v","type":"nominal","scale":{"domain":["WT","Beta"],"range":["#22b022","#ef8a2a"]},"legend":null}
 }},
{"transform":[{"filter":"isValid(datum.gmt)"}],
 "mark":{"type":"tick","thickness":2,"size":11,"opacity":1},
 "encoding":{
  "x":{"field":"t","type":"nominal","title":null,"scale":{"domain":["Day 1 Pre-Vax","Day 7 Post Dose 2","Month 1 Post Dose 2","Month 8 Post Dose 2","Day 7 Post Dose 3","Month 1 Post Dose 3"],"paddingInner":0,"paddingOuter":0}},
  "xOffset":{"field":"v","type":"nominal","scale":{"domain":["WT","Beta"],"paddingInner":0,"paddingOuter":0.2286,"align":0.3}},
  "y":{"field":"lo","type":"quantitative","scale":{"type":"log","domain":[10,10000],"nice":false},"axis":null},
  "color":{"field":"v","type":"nominal","scale":{"domain":["WT","Beta"],"range":["#22b022","#ef8a2a"]},"legend":null}
 }},
{"transform":[{"filter":"isValid(datum.gmt)"}],
 "mark":{"type":"tick","thickness":2,"size":11,"opacity":1},
 "encoding":{
  "x":{"field":"t","type":"nominal","title":null,"scale":{"domain":["Day 1 Pre-Vax","Day 7 Post Dose 2","Month 1 Post Dose 2","Month 8 Post Dose 2","Day 7 Post Dose 3","Month 1 Post Dose 3"],"paddingInner":0,"paddingOuter":0}},
  "xOffset":{"field":"v","type":"nominal","scale":{"domain":["WT","Beta"],"paddingInner":0,"paddingOuter":0.2286,"align":0.3}},
  "y":{"field":"hi","type":"quantitative","scale":{"type":"log","domain":[10,10000],"nice":false},"axis":null},
  "color":{"field":"v","type":"nominal","scale":{"domain":["WT","Beta"],"range":["#22b022","#ef8a2a"]},"legend":null}
 }},
{"transform":[{"filter":"isValid(datum.gmt)"}],
 "mark":{"type":"rule","strokeWidth":3,"color":"#000"},
 "encoding":{
  "x":{"field":"t","type":"nominal","title":null,"scale":{"domain":["Day 1 Pre-Vax","Day 7 Post Dose 2","Month 1 Post Dose 2","Month 8 Post Dose 2","Day 7 Post Dose 3","Month 1 Post Dose 3"],"paddingInner":0,"paddingOuter":0}},
  "xOffset":{"field":"v","type":"nominal","scale":{"domain":["WT","Beta"],"paddingInner":0,"paddingOuter":0.2286,"align":0.3}},
  "y":{"datum":10,"type":"quantitative","scale":{"type":"log","domain":[10,10000],"nice":false},"axis":null},
  "y2":{"datum":8.1}
 }},
{"transform":[{"filter":"isValid(datum.titer)"}],
 "mark":{"type":"point","filled":true,"opacity":1,"size":55},
 "encoding":{
  "x":{"field":"t","type":"nominal","title":null,"scale":{"domain":["Day 1 Pre-Vax","Day 7 Post Dose 2","Month 1 Post Dose 2","Month 8 Post Dose 2","Day 7 Post Dose 3","Month 1 Post Dose 3"],"paddingInner":0,"paddingOuter":0}},
  "xOffset":{"field":"v","type":"nominal","scale":{"domain":["WT","Beta"],"paddingInner":0,"paddingOuter":0.2286,"align":0.3}},
  "y":{"field":"titer","type":"quantitative","scale":{"type":"log","domain":[10,10000],"nice":false},"axis":null},
  "color":{"field":"v","type":"nominal","scale":{"domain":["WT","Beta"],"range":["#22b022","#ef8a2a"]},"legend":null},
  "shape":{"field":"v","type":"nominal","scale":{"domain":["WT","Beta"],"range":["circle","triangle-up"]},"legend":null}
 }},
{"transform":[{"joinaggregate":[{"op":"max","field":"gmt","as":"ggmt"}],"groupby":["t","v"]},{"filter":"!isValid(datum.titer) || datum.titer <= 4.1 * datum.ggmt"},{"joinaggregate":[{"op":"max","field":"titer","as":"top"}],"groupby":["t","v"]},{"filter":"isValid(datum.gmt)"}],
 "mark":{"type":"text","font":"Liberation Sans Narrow, Arial Narrow, Liberation Sans","fontSize":16.5,"fontWeight":"bold","dy":-9,"baseline":"alphabetic","color":"#111"},
 "encoding":{
  "x":{"field":"t","type":"nominal","title":null,"scale":{"domain":["Day 1 Pre-Vax","Day 7 Post Dose 2","Month 1 Post Dose 2","Month 8 Post Dose 2","Day 7 Post Dose 3","Month 1 Post Dose 3"],"paddingInner":0,"paddingOuter":0}},
  "xOffset":{"field":"v","type":"nominal","scale":{"domain":["WT","Beta"],"paddingInner":0,"paddingOuter":0.2286,"align":0.3}},
  "y":{"field":"top","type":"quantitative","scale":{"type":"log","domain":[10,10000],"nice":false},"axis":null},
  "text":{"field":"gmt","type":"nominal"}
 }},
{"data":{"name":"gmr"},
 "transform":[{"filter":"datum.g == '65-85'"}],
 "mark":{"type":"text","font":"Liberation Sans Narrow, Arial Narrow, Liberation Sans","fontSize":16,"fontWeight":"bold","baseline":"middle","color":"#d8262c"},
 "encoding":{
  "x":{"field":"t","type":"nominal","title":null,"scale":{"domain":["Day 1 Pre-Vax","Day 7 Post Dose 2","Month 1 Post Dose 2","Month 8 Post Dose 2","Day 7 Post Dose 3","Month 1 Post Dose 3"],"paddingInner":0,"paddingOuter":0}},
  "y":{"datum":26300,"type":"quantitative","scale":{"type":"log","domain":[10,10000],"nice":false},"axis":null},
  "text":{"field":"gmr","type":"nominal"}
 }}
]
},
{
"data":{"values":[{}]},
"layer":[
{"mark":{"type":"text","text":"65-85 y/o (n=12/gp)","fontSize":24,"fontWeight":"bold","align":"center","baseline":"alphabetic","color":"#111"},
 "encoding":{"x":{"datum":3.227,"type":"quantitative","scale":{"domain":[0,6],"nice":false,"zero":false},"axis":null},"y":{"datum":37270,"type":"quantitative","scale":{"type":"log","domain":[10,10000],"nice":false},"axis":null}}},
{"mark":{"type":"rule","color":"#1b2a6b","strokeWidth":3},
 "encoding":{"x":{"datum":0.023,"type":"quantitative","scale":{"domain":[0,6],"nice":false,"zero":false},"axis":null},"x2":{"datum":5.815},"y":{"datum":18570,"type":"quantitative","scale":{"type":"log","domain":[10,10000],"nice":false},"axis":null}}},
{"mark":{"type":"rule","color":"#8a8a8a","strokeWidth":1.5},
 "encoding":{"x":{"datum":-0.116,"type":"quantitative","scale":{"domain":[0,6],"nice":false,"zero":false},"axis":null},"y":{"datum":10,"type":"quantitative","scale":{"type":"log","domain":[10,10000],"nice":false},"axis":null},"y2":{"datum":11000}}},
{"mark":{"type":"rule","color":"#000","strokeWidth":3},
 "encoding":{"x":{"datum":-0.128,"type":"quantitative","scale":{"domain":[0,6],"nice":false,"zero":false},"axis":null},"x2":{"datum":6.105},"y":{"datum":10,"type":"quantitative","scale":{"type":"log","domain":[10,10000],"nice":false},"axis":null}}},
{"mark":{"type":"rule","color":"#f5301e","strokeWidth":12,"strokeCap":"butt"},
 "encoding":{"x":{"datum":1.279,"type":"quantitative","scale":{"domain":[0,6],"nice":false,"zero":false},"axis":null},"x2":{"datum":3.651},"y":{"datum":5080,"type":"quantitative","scale":{"type":"log","domain":[10,10000],"nice":false},"axis":null},"y2":{"datum":216.9}}},
{"mark":{"type":"point","shape":"M0.1,-0.957L-0.9,0.277L0.8,0.677Z","size":3600,"filled":true,"opacity":1,"color":"#f5301e","strokeWidth":0},
 "encoding":{"x":{"datum":3.732,"type":"quantitative","scale":{"domain":[0,6],"nice":false,"zero":false},"axis":null},"y":{"datum":190.6,"type":"quantitative","scale":{"type":"log","domain":[10,10000],"nice":false},"axis":null}}},
{"mark":{"type":"rect","fill":"transparent","stroke":"#f7f500","strokeWidth":8},
 "encoding":{"x":{"datum":1.767,"type":"quantitative","scale":{"domain":[0,6],"nice":false,"zero":false},"axis":null},"x2":{"datum":2.872},"y":{"datum":71950,"type":"quantitative","scale":{"type":"log","domain":[10,10000],"nice":false},"axis":null},"y2":{"datum":26840}}},
{"mark":{"type":"rect","fill":"transparent","stroke":"#f7f500","strokeWidth":8},
 "encoding":{"x":{"datum":2.907,"type":"quantitative","scale":{"domain":[0,6],"nice":false,"zero":false},"axis":null},"x2":{"datum":4.163},"y":{"datum":10.5,"type":"quantitative","scale":{"type":"log","domain":[10,10000],"nice":false},"axis":null},"y2":{"datum":3.32}}},
{"mark":{"type":"text","text":"PRNT","fontSize":16,"fontWeight":"bold","align":"left","baseline":"alphabetic","color":"#31c531"},
 "encoding":{"x":{"datum":6.314,"type":"quantitative","scale":{"domain":[0,6],"nice":false,"zero":false},"axis":null},"y":{"datum":13895,"type":"quantitative","scale":{"type":"log","domain":[10,10000],"nice":false},"axis":null}}},
{"mark":{"type":"text","text":"WT","fontSize":10,"fontWeight":"bold","align":"left","baseline":"alphabetic","color":"#31c531"},
 "encoding":{"x":{"datum":6.830,"type":"quantitative","scale":{"domain":[0,6],"nice":false,"zero":false},"axis":null},"y":{"datum":12860,"type":"quantitative","scale":{"type":"log","domain":[10,10000],"nice":false},"axis":null}}},
{"mark":{"type":"text","text":"PRNT","fontSize":16,"fontWeight":"bold","align":"left","baseline":"alphabetic","color":"#f4913a"},
 "encoding":{"x":{"datum":6.314,"type":"quantitative","scale":{"domain":[0,6],"nice":false,"zero":false},"axis":null},"y":{"datum":6166,"type":"quantitative","scale":{"type":"log","domain":[10,10000],"nice":false},"axis":null}}},
{"mark":{"type":"text","text":"Beta","fontSize":10,"fontWeight":"bold","align":"left","baseline":"alphabetic","color":"#f4913a"},
 "encoding":{"x":{"datum":6.830,"type":"quantitative","scale":{"domain":[0,6],"nice":false,"zero":false},"axis":null},"y":{"datum":5704,"type":"quantitative","scale":{"type":"log","domain":[10,10000],"nice":false},"axis":null}}},
{"mark":{"type":"text","text":"GMR","fontSize":16,"fontWeight":"bold","align":"left","baseline":"alphabetic","color":"#d0243c"},
 "encoding":{"x":{"datum":6.314,"type":"quantitative","scale":{"domain":[0,6],"nice":false,"zero":false},"axis":null},"y":{"datum":3070,"type":"quantitative","scale":{"type":"log","domain":[10,10000],"nice":false},"axis":null}}},
{"mark":{"type":"text","text":"Beta/WT","fontSize":10,"fontWeight":"bold","align":"left","baseline":"alphabetic","color":"#d0243c"},
 "encoding":{"x":{"datum":6.756,"type":"quantitative","scale":{"domain":[0,6],"nice":false,"zero":false},"axis":null},"y":{"datum":2845,"type":"quantitative","scale":{"type":"log","domain":[10,10000],"nice":false},"axis":null}}},
{"mark":{"type":"text","text":"LOD","fontSize":14,"fontWeight":"bold","align":"left","baseline":"alphabetic","color":"#111"},
 "encoding":{"x":{"datum":6.023,"type":"quantitative","scale":{"domain":[0,6],"nice":false,"zero":false},"axis":null},"y":{"datum":23.4,"type":"quantitative","scale":{"type":"log","domain":[10,10000],"nice":false},"axis":null}}},
{"mark":{"type":"text","text":"1. Initial data, Phase 1 sentinel subjects received dose 1 & 2 of 30mcg BNT162b2 21 days apart, subjects then came back and received BNT162b2 30 mcg as a 3rd booster dose;","fontSize":12.4,"fontStyle":"italic","align":"center","baseline":"alphabetic","color":"#222"},
 "encoding":{"x":{"datum":0.070,"type":"quantitative","scale":{"domain":[0,6],"nice":false,"zero":false},"axis":null},"y":{"datum":1.753,"type":"quantitative","scale":{"type":"log","domain":[10,10000],"nice":false},"axis":null}}},
{"mark":{"type":"text","text":"2. Samples were tested against each variant separately; PRNT: Plaque Reduction Neutralizing Test; GMR: Geometric Mean Ratio; WT: Wild Type; LOD: Limit of Detection","fontSize":12.4,"fontStyle":"italic","align":"center","baseline":"alphabetic","color":"#222"},
 "encoding":{"x":{"datum":0.070,"type":"quantitative","scale":{"domain":[0,6],"nice":false,"zero":false},"axis":null},"y":{"datum":1.336,"type":"quantitative","scale":{"type":"log","domain":[10,10000],"nice":false},"axis":null}}},
{"mark":{"type":"text","text":"Data submitted for publication","fontSize":11,"fontStyle":"italic","align":"center","baseline":"alphabetic","color":"#222"},
 "encoding":{"x":{"datum":0.116,"type":"quantitative","scale":{"domain":[0,6],"nice":false,"zero":false},"axis":null},"y":{"datum":0.857,"type":"quantitative","scale":{"type":"log","domain":[10,10000],"nice":false},"axis":null}}},
{"mark":{"type":"text","text":"26","fontSize":15,"fontWeight":"bold","align":"center","baseline":"alphabetic","color":"#1d3d9a"},
 "encoding":{"x":{"datum":7.198,"type":"quantitative","scale":{"domain":[0,6],"nice":false,"zero":false},"axis":null},"y":{"datum":0.908,"type":"quantitative","scale":{"type":"log","domain":[10,10000],"nice":false},"axis":null}}}
]
}
]
}
]
}
